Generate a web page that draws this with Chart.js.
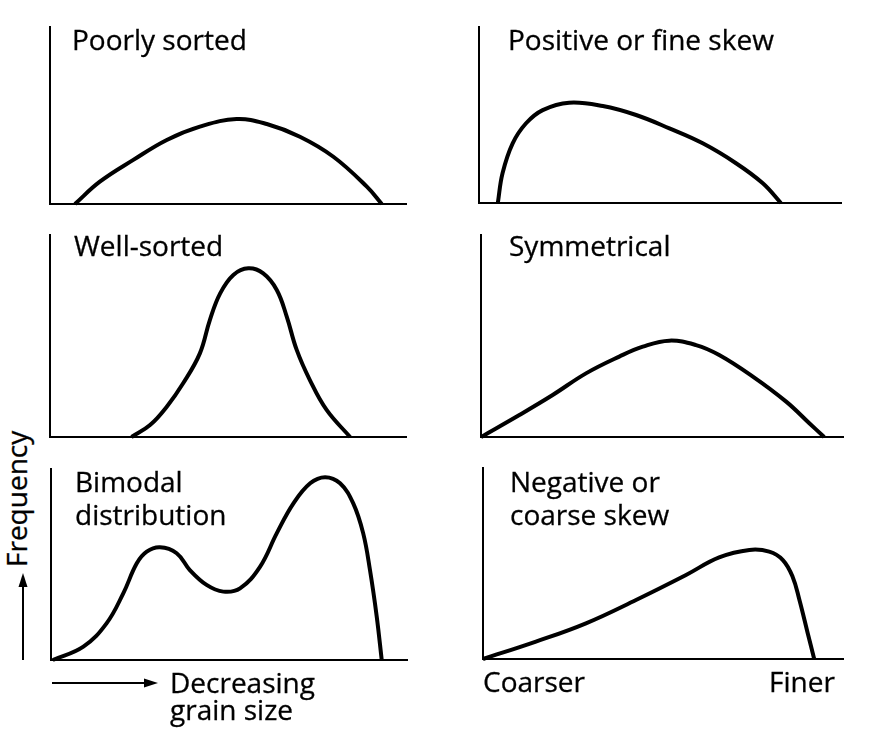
<!DOCTYPE html>
<html>
<head>
<meta charset="utf-8">
<script src="https://cdn.jsdelivr.net/npm/chart.js@4/dist/chart.umd.min.js"></script>
<style>
  html, body { margin: 0; padding: 0; background: #fff; }
  #page { position: relative; width: 872px; height: 741px; overflow: hidden; font-family: 'Open Sans', sans-serif; color: #000; }
  .panel { position: absolute; }
  .lbl { position: absolute; font-size: 28px; line-height: 28px; font-weight: 500; white-space: pre; -webkit-text-stroke: 0.3px #000; }
  #arrows { position: absolute; left: 0; top: 0; }
</style>
</head>
<body>
<div id="page">
  <div class="panel" id="p-poorly"><canvas></canvas></div>
  <div class="panel" id="p-positive"><canvas></canvas></div>
  <div class="panel" id="p-well"><canvas></canvas></div>
  <div class="panel" id="p-symm"><canvas></canvas></div>
  <div class="panel" id="p-bimodal"><canvas></canvas></div>
  <div class="panel" id="p-negative"><canvas></canvas></div>

  <div class="lbl" style="left:72px; top:25px;">Poorly sorted</div>
  <div class="lbl" style="left:508px; top:25px;">Positive or fine skew</div>
  <div class="lbl" style="left:74px; top:231px;">Well-sorted</div>
  <div class="lbl" style="left:509px; top:231px;">Symmetrical</div>
  <div class="lbl" style="left:75px; top:465px; line-height:33px;">Bimodal
distribution</div>
  <div class="lbl" style="left:510px; top:465px; line-height:33px;">Negative or
coarse skew</div>
  <div class="lbl" style="left:170px; top:669px; line-height:27px;">Decreasing
grain size</div>
  <div class="lbl" style="left:483px; top:667px;">Coarser</div>
  <div class="lbl" style="left:769px; top:667px;">Finer</div>
  <div class="lbl" style="left:2px; top:567px; transform:rotate(-90deg); transform-origin:0 0;">Frequency</div>

  <svg id="arrows" width="872" height="741">
    <line x1="23" y1="660" x2="23" y2="584" stroke="#000" stroke-width="2"/>
    <polygon points="23,573 18.5,587 27.5,587" fill="#000"/>
    <line x1="52" y1="683" x2="146" y2="683" stroke="#000" stroke-width="2"/>
    <polygon points="158,683 144,678.5 144,687.5" fill="#000"/>
  </svg>
</div>

<script>
// x = position along grain-size axis (0-100), y = relative frequency (0-100)
const poorlyX   = [7.0, 14.0, 23.4, 32.8, 42.1, 52.4, 60.9, 70.2, 79.6, 89.0, 93.2];
const poorlyY   = [0, 12.6, 24.9, 36.2, 43.7, 48.0, 45.2, 38.0, 26.7, 9.8, 0];

const positiveX = [5.2, 6.5, 9.3, 13.0, 17.6, 24.9, 34.2, 43.4, 52.6, 61.8, 71.0, 78.4, 83.4];
const positiveY = [0, 16.9, 33.9, 45.3, 52.8, 57.0, 55.1, 50.0, 42.4, 33.9, 22.6, 11.2, 0];

const wellX     = [22.9, 28.1, 32.8, 37.4, 42.1, 44.9, 47.8, 51.5, 55.7, 59.9, 63.7, 66.5, 69.3, 73.0, 77.7, 84.3];
const wellY     = [0, 5.9, 15.0, 26.6, 41.4, 57.9, 71.1, 80.2, 83.5, 81.0, 72.8, 59.6, 43.1, 28.2, 13.4, 0];

const symmX     = [0, 10.6, 19.8, 29.0, 38.2, 44.7, 52.0, 59.4, 65.8, 75.1, 84.3, 90.7, 94.8];
const symmY     = [0, 10.9, 20.8, 31.5, 39.8, 44.7, 47.7, 45.5, 40.6, 29.9, 17.5, 6.8, 0];

const bimodalX  = [0.5, 9.1, 15.6, 20.3, 24.1, 26.9, 30.6, 35.3, 39.0, 43.7, 48.4, 53.1, 58.7, 63.4, 68.1, 72.8, 77.0, 81.2, 84.9, 87.7, 89.6, 91.5, 92.9];
const bimodalY  = [0, 7.0, 19.2, 34.9, 50.6, 56.7, 59.0, 55.9, 47.1, 39.3, 35.8, 37.5, 48.8, 66.3, 82.0, 92.5, 95.7, 92.5, 82.0, 66.3, 47.1, 22.7, 0];

const negativeX = [0, 14.7, 28.6, 42.5, 56.4, 65.6, 74.0, 79.5, 83.3, 86.0, 87.9, 90.2, 92.0];
const negativeY = [0, 9.1, 18.7, 30.9, 44.0, 53.2, 57.1, 56.2, 51.8, 43.1, 30.9, 13.5, 0];

const PAD = 6;
// panel frames: axis origin left/top edge and axis lengths in page pixels
const panels = [
    { id: 'p-poorly',   xs: poorlyX,   ys: poorlyY,   left: 50,  top: 27,  w: 356, h: 177 },
    { id: 'p-positive', xs: positiveX, ys: positiveY, left: 479, top: 27,  w: 362, h: 176 },
    { id: 'p-well',     xs: wellX,     ys: wellY,     left: 50,  top: 235, w: 356, h: 202 },
    { id: 'p-symm',     xs: symmX,     ys: symmY,     left: 481, top: 235, w: 362, h: 202 },
    { id: 'p-bimodal',  xs: bimodalX,  ys: bimodalY,  left: 51,  top: 469, w: 356, h: 191 },
    { id: 'p-negative', xs: negativeX, ys: negativeY, left: 483, top: 468, w: 360, h: 191 }
];

const axisOpts = (isX) => ({
    type: 'linear',
    min: 0,
    max: 100,
    ticks: { display: false },
    grid: { display: false, drawTicks: false },
    border: { display: true, color: '#000', width: 2 },
    afterFit: s => { if (isX) s.height = 0; else s.width = 0; }
});

for (const p of panels) {
    const wrap = document.getElementById(p.id);
    wrap.style.left = (p.left - PAD) + 'px';
    wrap.style.top  = (p.top - PAD) + 'px';
    const canvas = wrap.querySelector('canvas');
    canvas.width  = p.w + PAD * 2;
    canvas.height = p.h + PAD * 2;

    new Chart(canvas, {
        type: 'line',
        data: {
            datasets: [{
                data: p.xs.map((x, i) => ({ x, y: p.ys[i] })),
                borderColor: '#000',
                borderWidth: 4,
                pointRadius: 0,
                fill: false,
                tension: 0.4,
                clip: false
            }]
        },
        options: {
            responsive: false,
            animation: false,
            devicePixelRatio: 1,
            layout: { padding: PAD },
            plugins: { legend: { display: false }, tooltip: { enabled: false } },
            scales: { x: axisOpts(true), y: axisOpts(false) }
        }
    });
}
</script>
</body>
</html>
